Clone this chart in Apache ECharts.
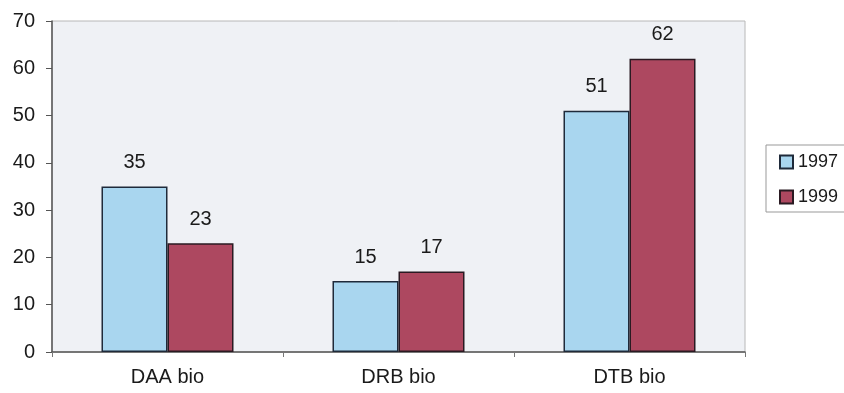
<!DOCTYPE html>
<html>
<head>
<meta charset="utf-8">
<script src="https://cdn.jsdelivr.net/npm/echarts@6/dist/echarts.min.js"></script>
<style>html,body{margin:0;padding:0;background:#fff}#c{width:844px;height:393px}</style>
</head>
<body>
<div id="c"></div>
<script>
var categories = ['DAA bio', 'DRB bio', 'DTB bio'];
var seriesNames = ['1997', '1999'];
var values1997 = [35, 15, 51];
var values1999 = [23, 17, 62];
var yTicks = [0, 10, 20, 30, 40, 50, 60, 70];

var chart = echarts.init(document.getElementById('c'));
var font = 'Liberation Sans, Arial, sans-serif';
var labelCfg = {show: true, position: 'top', distance: 14, color: '#1a1a1a', fontSize: 20, fontFamily: font};
chart.setOption({
  animation: false,
  grid: {left: 52, right: 99, top: 21, bottom: 41, show: true, backgroundColor: '#eff1f5', borderColor: '#b8b8b8', borderWidth: 1},
  legend: {
    orient: 'vertical', left: 766, top: 145, itemWidth: 13, itemHeight: 13, itemGap: 17,
    borderColor: '#999', borderWidth: 1, padding: [8, 12, 6, 13], icon: 'rect',
    textStyle: {fontSize: 18, fontFamily: font, color: '#1a1a1a'},
    data: seriesNames
  },
  xAxis: {
    type: 'category', data: categories,
    axisLine: {lineStyle: {color: '#555', width: 1.5}},
    axisTick: {show: true, length: 5, lineStyle: {color: '#777'}},
    axisLabel: {fontSize: 20, fontFamily: font, color: '#1a1a1a', margin: 15}
  },
  yAxis: {
    type: 'value', min: yTicks[0], max: yTicks[yTicks.length - 1], interval: 10,
    axisLine: {show: true, lineStyle: {color: '#555', width: 1.5}},
    axisTick: {show: true, length: 6, lineStyle: {color: '#555'}},
    splitLine: {show: false},
    axisLabel: {fontSize: 20, fontFamily: font, color: '#1a1a1a', margin: 17}
  },
  series: [
    {name: seriesNames[0], type: 'bar', data: values1997, barWidth: 66, barGap: '0%',
     itemStyle: {color: '#a9d6ef', borderColor: '#1f2a3a', borderWidth: 1.5}, label: labelCfg},
    {name: seriesNames[1], type: 'bar', data: values1999, barWidth: 66, barGap: '0%',
     itemStyle: {color: '#ad4860', borderColor: '#2a1a22', borderWidth: 1.5}, label: labelCfg}
  ]
});
</script>
</body>
</html>
